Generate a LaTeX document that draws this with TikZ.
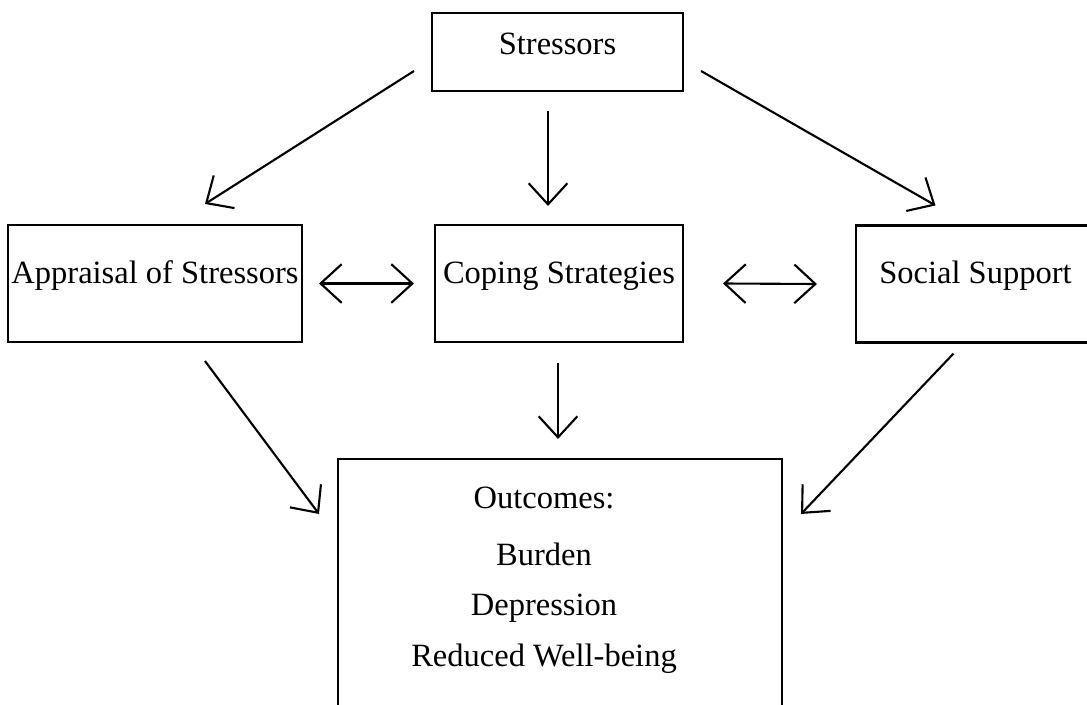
\documentclass[tikz,border=0pt]{standalone}
\usepackage{fontspec}
\setmainfont{Liberation Serif}
\usetikzlibrary{arrows.meta,calc}

\tikzset{
  box/.style={draw, line width=1.2pt, inner sep=0pt, minimum height=2.34cm,
    text height=12pt, text depth=12pt, font=\fontsize{18.5}{22}\selectfont},
  outline/.style={font=\fontsize{18.5}{22}\selectfont, inner sep=0pt},
  link/.style={line width=1.2pt, -{Straight Barb[length=12pt,width=22pt]}},
  twoway/.style={line width=1.2pt,
    {Straight Barb[length=12pt,width=22pt]}-{Straight Barb[length=12pt,width=22pt]}},
}

\begin{document}
\begin{tikzpicture}[x=0.02cm, y=-0.02cm]
    % Page frame
    \clip (0,0) rectangle (1087,705);

    % Boxes
    \node[box, minimum width=5.02cm, minimum height=1.56cm, text depth=9pt] (stressors) at (557.5,52) {Stressors};
    \node[box, minimum width=5.88cm] (appraisal) at (155,283.5) {Appraisal of Stressors};
    \node[box, minimum width=4.96cm] (coping) at (559,283.5) {Coping Strategies};
    \node[box, minimum width=4.78cm] (social) at (975.5,284) {Social Support};
    \node[box, minimum width=8.88cm, minimum height=6.02cm] (outcomes) at (560,609.5) {};

    % Outcome list
    \foreach \txt/\dy [count=\i] in {Outcomes:/51, Burden/108, Depression/158, Reduced Well-being/209}
        \node[outline, anchor=base] (line\i) at ($(outcomes.north)+(-16,\dy)$) {\txt};

    % Stressors to the middle row
    \draw[link] ($(stressors.west)+(-17,19)$) -- ($(appraisal.north)+(50,-20)$);
    \draw[link] ($(stressors.south)+(-9.5,19)$) -- ($(coping.north)+(-11,-18)$);
    \draw[link] ($(stressors.east)+(17,19)$) -- ($(social.north)+(-40,-19)$);

    % Links within the middle row
    \draw[twoway] ($(appraisal.east)+(16,0)$) -- ($(coping.west)+(-20,0)$);
    \draw[twoway] ($(coping.east)+(39,0)$) -- ($(social.west)+(-38,0)$);

    % Middle row to outcomes
    \draw[link] ($(appraisal.south)+(50,18)$) -- ($(outcomes.north west)+(-18,56)$);
    \draw[link] ($(coping.south)+(-1,20)$) -- ($(outcomes.north)+(-2,-19)$);
    \draw[link] ($(social.south)+(-22,10)$) -- ($(outcomes.north east)+(18,56)$);
\end{tikzpicture}
\end{document}
